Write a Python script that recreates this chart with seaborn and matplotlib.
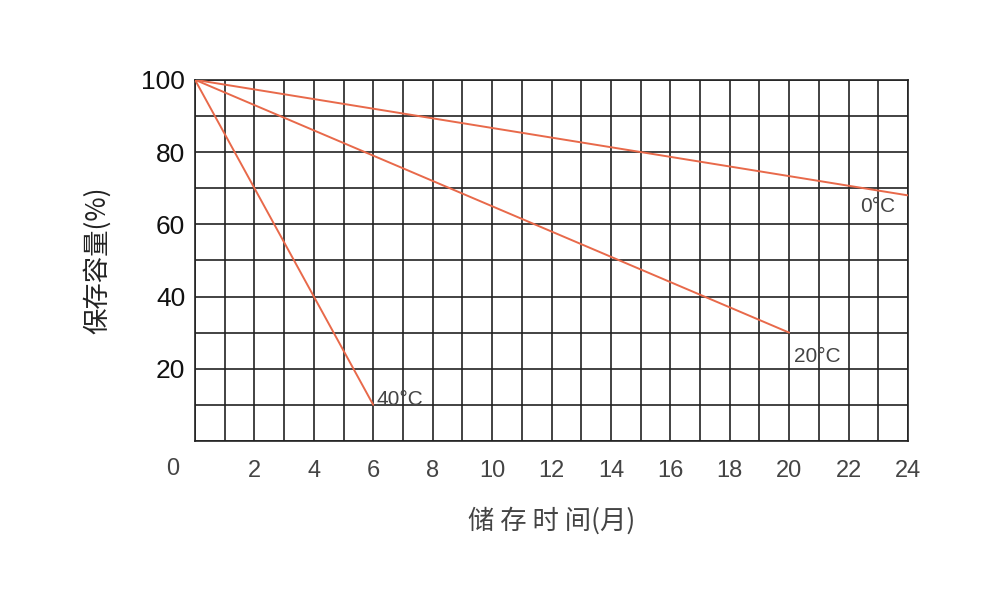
import pandas as pd
import seaborn as sns
import matplotlib.pyplot as plt

# storage time (months) and remaining capacity (%) per temperature
months_0c = [0, 24]
capacity_0c = [100, 68]
months_20c = [0, 20]
capacity_20c = [100, 30]
months_40c = [0, 6]
capacity_40c = [100, 10]
series_names = ["0°C", "20°C", "40°C"]

x_ticks = list(range(2, 25, 2))
y_ticks = [20, 40, 60, 80, 100]

df = pd.concat([
    pd.DataFrame({"month": months_0c, "capacity": capacity_0c, "temp": series_names[0]}),
    pd.DataFrame({"month": months_20c, "capacity": capacity_20c, "temp": series_names[1]}),
    pd.DataFrame({"month": months_40c, "capacity": capacity_40c, "temp": series_names[2]}),
])

sns.set_style("white")
plt.rcParams['font.family'] = ['Liberation Sans', 'Noto Sans CJK SC', 'DejaVu Sans']

fig = plt.figure(figsize=(10, 6), dpi=100)
ax = fig.add_axes([0.195, 0.265, 0.713, 0.602])

line_color = "#e8694a"
sns.lineplot(data=df, x="month", y="capacity", hue="temp",
             palette=[line_color] * 3, linewidth=1.4, legend=False, ax=ax, zorder=3)

ax.set_xlim(0, 24)
ax.set_ylim(0, 100)

# grid: every month / every 10 %
ax.set_xticks(range(0, 25), minor=True)
ax.set_yticks(range(0, 101, 10), minor=True)
ax.set_xticks(x_ticks)
ax.set_yticks(y_ticks)
ax.grid(which="both", color="#222222", linewidth=1.2)
for s in ax.spines.values():
    s.set_color("#222222")
    s.set_linewidth(1.2)

ax.set_xticklabels([str(t) for t in x_ticks], fontsize=17, color="#444444")
ax.set_yticklabels([str(t) for t in y_ticks], fontsize=19, color="#111111")
ax.tick_params(axis="both", which="both", length=0)
ax.tick_params(axis="x", pad=14)
ax.tick_params(axis="y", pad=7)
ax.text(-0.74, -7.8, "0", fontsize=17, color="#444444", ha="center", va="center")

ax.set_xlabel("储 存 时 间(月)", fontsize=19, color="#444444",
              family=['Noto Sans CJK SC', 'DejaVu Sans'], labelpad=18)
ax.set_ylabel("保存容量(%)", fontsize=19, color="#222222",
              family=['Noto Sans CJK SC', 'DejaVu Sans'], labelpad=22)

# series annotations
ax.text(22.4, 65, series_names[0], fontsize=15, color="#444444", va="center")
ax.text(20.15, 23.5, series_names[1], fontsize=15, color="#444444", va="center")
ax.text(6.1, 11.5, series_names[2], fontsize=15, color="#444444", va="center")

fig.savefig("out.png", dpi=100, facecolor="white")
